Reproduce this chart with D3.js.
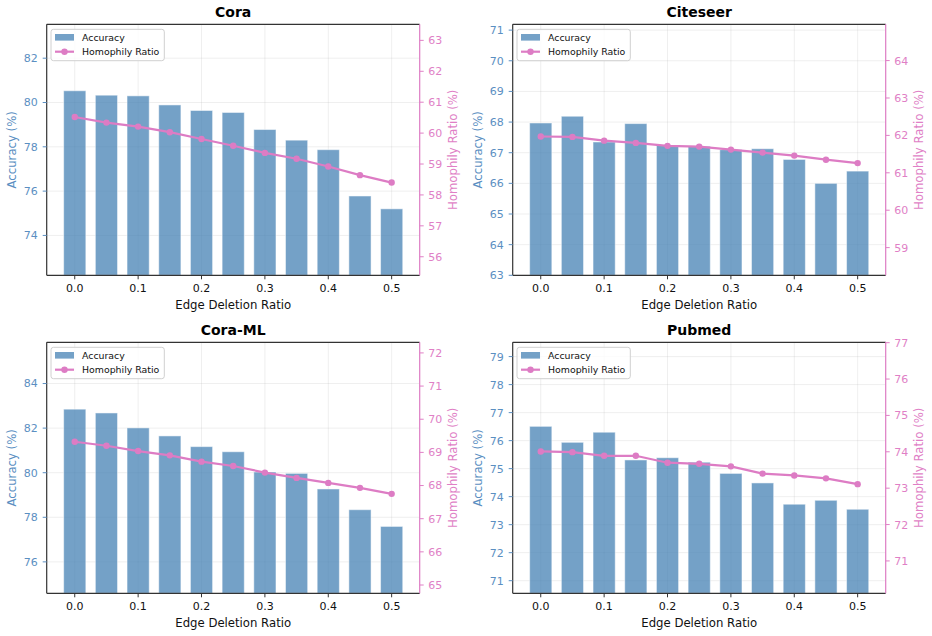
<!DOCTYPE html>
<html>
<head>
<meta charset="utf-8">
<script src="https://cdn.jsdelivr.net/npm/d3@7"></script>
<style>
  body { margin: 0; background: #fff; }
  svg { display: block; font-family: "DejaVu Sans", sans-serif; }
</style>
</head>
<body>
<svg id="fig" width="932" height="636"></svg>
<script>
// data
var ratios = [0.0, 0.05, 0.1, 0.15, 0.2, 0.25, 0.3, 0.35, 0.4, 0.45, 0.5]
var xTicks = [0.0, 0.1, 0.2, 0.3, 0.4, 0.5]
var datasets = ["Cora", "Citeseer", "Cora-ML", "Pubmed"]

var accCora     = [80.53, 80.33, 80.30, 79.89, 79.64, 79.55, 78.78, 78.30, 77.87, 75.78, 75.20]
var accCiteseer = [67.97, 68.19, 67.35, 67.95, 67.25, 67.21, 67.10, 67.13, 66.78, 66.00, 66.40]
var accCoraML   = [82.85, 82.68, 82.01, 81.65, 81.17, 80.94, 80.03, 79.97, 79.27, 78.34, 77.59]
var accPubmed   = [76.51, 75.94, 76.30, 75.31, 75.39, 75.23, 74.83, 74.49, 73.73, 73.87, 73.55]

var homCora     = [60.52, 60.34, 60.21, 60.03, 59.81, 59.59, 59.36, 59.17, 58.92, 58.64, 58.40]
var homCiteseer = [61.97, 61.96, 61.86, 61.80, 61.72, 61.70, 61.62, 61.54, 61.46, 61.35, 61.26]
var homCoraML   = [69.32, 69.20, 69.04, 68.91, 68.72, 68.59, 68.39, 68.23, 68.08, 67.93, 67.75]
var homPubmed   = [74.01, 73.99, 73.89, 73.89, 73.70, 73.67, 73.60, 73.40, 73.35, 73.27, 73.11]

var accAll = [accCora, accCiteseer, accCoraML, accPubmed]
var homAll = [homCora, homCiteseer, homCoraML, homPubmed]
var accStep = [2, 1, 2, 1]   // left tick spacing
var homStep = [1, 1, 1, 1]   // right tick spacing

var barColor = "steelblue"
var pink = "#dd7cc4"
var accText = "#5b8fc2"
var homText = "#e07fc6"

var svg = d3.select("#fig")
var axW = 373, axH = 251

function intTicks(domain, step) {
  var out = []
  var start = Math.ceil(domain[0] / step - 1e-6) * step
  for (var v = start; v <= domain[1] + 1e-6; v += step) out.push(v)
  return out
}

function drawPanel(p) {
  var col = p % 2, row = Math.floor(p / 2)
  var axLeft = 46.7 + 466 * col
  var axTop = 24.3 + 318 * row
  var acc = accAll[p], hom = homAll[p]

  var g = svg.append("g").attr("transform", "translate(" + axLeft + "," + axTop + ")")

  // x limits like matplotlib: bars +-0.0175 and 5% margin
  var span = (ratios[ratios.length - 1] + 0.0175) - (ratios[0] - 0.0175)
  var x = d3.scaleLinear()
            .domain([ratios[0] - 0.0175 - 0.05 * span, ratios[ratios.length - 1] + 0.0175 + 0.05 * span])
            .range([0, axW])
  var accDom = [d3.min(acc) - 3, d3.max(acc) + 3]
  var homDom = [d3.min(hom) - 3, d3.max(hom) + 3]
  var yL = d3.scaleLinear().domain(accDom).range([axH, 0])
  var yR = d3.scaleLinear().domain(homDom).range([axH, 0])

  var leftTicks = intTicks(accDom, accStep[p])
  var rightTicks = intTicks(homDom, homStep[p])

  // grid
  g.append("g").selectAll("line").data(xTicks).enter().append("line")
    .attr("x1", function(d){ return x(d) }).attr("x2", function(d){ return x(d) })
    .attr("y1", 0).attr("y2", axH)
    .attr("stroke", "#b0b0b0").attr("stroke-opacity", 0.25).attr("stroke-width", 0.8)
  g.append("g").selectAll("line").data(leftTicks).enter().append("line")
    .attr("x1", 0).attr("x2", axW)
    .attr("y1", function(d){ return yL(d) }).attr("y2", function(d){ return yL(d) })
    .attr("stroke", "#b0b0b0").attr("stroke-opacity", 0.25).attr("stroke-width", 0.8)

  // bars
  var bw = x(0.035) - x(0)
  g.append("g").selectAll("rect").data(acc).enter().append("rect")
    .attr("x", function(d, i){ return x(ratios[i]) - bw / 2 })
    .attr("y", function(d){ return yL(d) })
    .attr("width", bw)
    .attr("height", function(d){ return axH - yL(d) })
    .attr("fill", barColor).attr("fill-opacity", 0.75)
    .attr("stroke", "#ffffff").attr("stroke-opacity", 0.5).attr("stroke-width", 1)

  // homophily line
  var line = d3.line()
               .x(function(d, i){ return x(ratios[i]) })
               .y(function(d){ return yR(d) })
  g.append("path").datum(hom)
    .attr("d", line).attr("fill", "none")
    .attr("stroke", pink).attr("stroke-width", 2.2)
  g.append("g").selectAll("circle").data(hom).enter().append("circle")
    .attr("cx", function(d, i){ return x(ratios[i]) })
    .attr("cy", function(d){ return yR(d) })
    .attr("r", 3.2).attr("fill", pink)

  // spines
  g.append("line").attr("x1", 0).attr("x2", axW).attr("y1", 0).attr("y2", 0)
    .attr("stroke", "#333").attr("stroke-width", 1.2)
  g.append("line").attr("x1", 0).attr("x2", axW).attr("y1", axH).attr("y2", axH)
    .attr("stroke", "#333").attr("stroke-width", 1.2)
  g.append("line").attr("x1", 0).attr("x2", 0).attr("y1", 0).attr("y2", axH)
    .attr("stroke", "#333").attr("stroke-width", 1.2)
  g.append("line").attr("x1", axW).attr("x2", axW).attr("y1", 0).attr("y2", axH)
    .attr("stroke", pink).attr("stroke-width", 1.2)

  // x ticks
  var xt = g.append("g").selectAll("g").data(xTicks).enter().append("g")
  xt.append("line")
    .attr("x1", function(d){ return x(d) }).attr("x2", function(d){ return x(d) })
    .attr("y1", axH).attr("y2", axH + 4)
    .attr("stroke", "#333").attr("stroke-width", 1)
  xt.append("text")
    .attr("x", function(d){ return x(d) }).attr("y", axH + 17)
    .attr("text-anchor", "middle").attr("font-size", "11px").attr("fill", "#111")
    .text(function(d){ return d.toFixed(1) })

  // left ticks
  var lt = g.append("g").selectAll("g").data(leftTicks).enter().append("g")
  lt.append("line")
    .attr("x1", -4).attr("x2", 0)
    .attr("y1", function(d){ return yL(d) }).attr("y2", function(d){ return yL(d) })
    .attr("stroke", accText).attr("stroke-width", 1)
  lt.append("text")
    .attr("x", -9).attr("y", function(d){ return yL(d) }).attr("dy", "0.36em")
    .attr("text-anchor", "end").attr("font-size", "11px").attr("fill", accText)
    .text(function(d){ return Math.round(d) })

  // right ticks
  var rt = g.append("g").selectAll("g").data(rightTicks).enter().append("g")
  rt.append("line")
    .attr("x1", axW).attr("x2", axW + 4)
    .attr("y1", function(d){ return yR(d) }).attr("y2", function(d){ return yR(d) })
    .attr("stroke", homText).attr("stroke-width", 1)
  rt.append("text")
    .attr("x", axW + 8.5).attr("y", function(d){ return yR(d) }).attr("dy", "0.36em")
    .attr("text-anchor", "start").attr("font-size", "11px").attr("fill", homText)
    .text(function(d){ return Math.round(d) })

  // labels
  g.append("text")
    .attr("x", axW / 2).attr("y", axH + 33.5)
    .attr("text-anchor", "middle").attr("font-size", "11.7px").attr("fill", "#111")
    .text("Edge Deletion Ratio")
  g.append("text")
    .attr("transform", "translate(-35," + (axH / 2) + ") rotate(-90)")
    .attr("text-anchor", "middle").attr("dy", "0.36em")
    .attr("font-size", "11.7px").attr("fill", accText)
    .text("Accuracy (%)")
  g.append("text")
    .attr("transform", "translate(" + (axW + 33) + "," + (axH / 2) + ") rotate(-90)")
    .attr("text-anchor", "middle").attr("dy", "0.36em")
    .attr("font-size", "11.7px").attr("fill", homText)
    .text("Homophily Ratio (%)")
  g.append("text")
    .attr("x", axW / 2).attr("y", -7.5)
    .attr("text-anchor", "middle").attr("font-size", "14px").attr("font-weight", "bold")
    .attr("fill", "#000")
    .text(datasets[p])

  // legend
  var lg = g.append("g").attr("transform", "translate(4.3,5)")
  lg.append("rect")
    .attr("width", 113.3).attr("height", 31.4).attr("rx", 2.5)
    .attr("fill", "#fff").attr("fill-opacity", 0.8)
    .attr("stroke", "#d0d0d0").attr("stroke-width", 1)
  lg.append("rect")
    .attr("x", 4).attr("y", 4.7).attr("width", 19).attr("height", 6.6)
    .attr("fill", barColor).attr("fill-opacity", 0.75)
  lg.append("text")
    .attr("x", 31).attr("y", 8).attr("dy", "0.36em")
    .attr("font-size", "9.4px").attr("fill", "#111").text("Accuracy")
  lg.append("line")
    .attr("x1", 4).attr("x2", 23).attr("y1", 22.4).attr("y2", 22.4)
    .attr("stroke", pink).attr("stroke-width", 2.2)
  lg.append("circle").attr("cx", 13.5).attr("cy", 22.4).attr("r", 3.2).attr("fill", pink)
  lg.append("text")
    .attr("x", 31).attr("y", 22.4).attr("dy", "0.36em")
    .attr("font-size", "9.4px").attr("fill", "#111").text("Homophily Ratio")
}

for (var p = 0; p < 4; p++) drawPanel(p)
</script>
</body>
</html>
